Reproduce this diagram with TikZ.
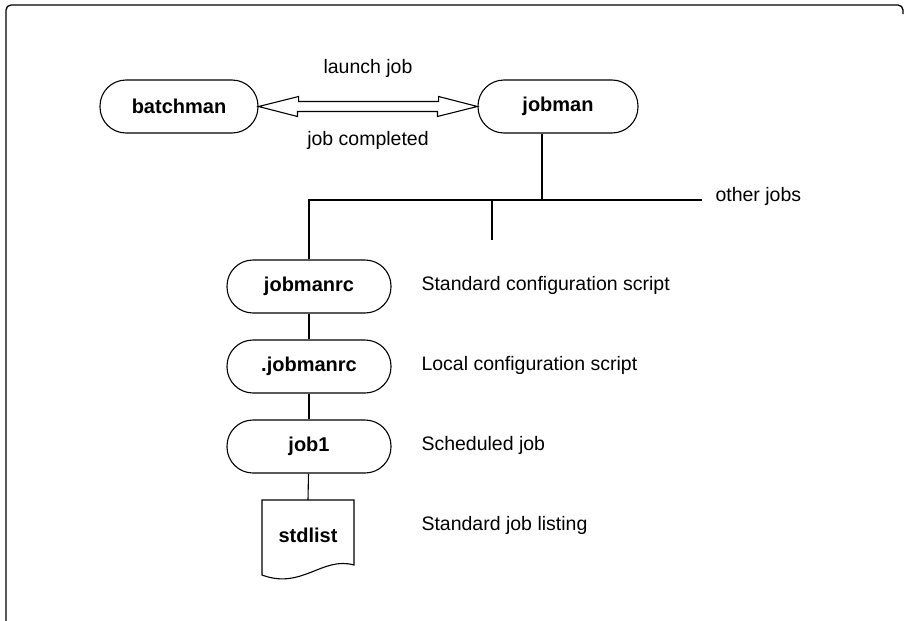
\documentclass[tikz,border=0pt]{standalone}
\usepackage{fontspec}
\setmainfont{Liberation Sans}
\begin{document}
\begin{tikzpicture}[x=1pt,y=-1pt,
  every node/.style={font=\fontsize{19.5}{23}\selectfont},
  pbox/.style={draw, line width=1.1pt, rounded corners=26pt, minimum height=53pt,
    font=\fontsize{20}{24}\selectfont\bfseries},
  wire/.style={line width=1.1pt},
  note/.style={anchor=west}]
\useasboundingbox (0,0) rectangle (905,621);
% outer frame, open at the right and bottom
\draw[line width=1.3pt, rounded corners=5pt] (6,625) -- (6,5) -- (903,5) -- (903,14);

% scheduler processes
\node[pbox, minimum width=158pt] (batchman) at (179,106.5) {batchman};
\node[pbox, minimum width=160pt] (jobman) at (558,106.5) {jobman};

% hollow two-headed arrow between them
\draw[line width=1.1pt, line join=miter]
  (batchman.east) -- ++(40,-10) -- ++(0,5) -- ++(140,0) -- ++(0,-5)
  -- (jobman.west) -- ++(-40,10) -- ++(0,-5) -- ++(-140,0) -- ++(0,5) -- cycle;
\node (launch) at (368,68) {launch job};
\node (done) at (368,140) {job completed};

% job column
\node[pbox, minimum width=164pt] (rc) at (309,286.5) {jobmanrc};
\node[pbox, minimum width=164pt] (lrc) at (309,366.5) {.jobmanrc};
\node[pbox, minimum width=164pt] (job) at (309,446.5) {job1};

% stdlist document symbol
\coordinate (doctop) at (308,500);
\draw[line width=1.1pt] (262,500) -- (354,500) -- (354,565)
  .. controls (322,556) and (302,590) .. (262,575) -- cycle;
\node[font=\fontsize{20}{24}\selectfont\bfseries] (std) at (308,535) {stdlist};

% fan-out from jobman
\coordinate (split) at (542,200);
\coordinate (left) at (309,200);
\coordinate (right) at (702,200);
\coordinate (mid) at (492,200);
\coordinate (midend) at (492,240);
\draw[wire] (jobman.south -| split) -- (split);
\draw[wire] (rc.north) -- (left) -- (right);
\draw[wire] (mid) -- (midend);
\node[note] (other) at (712,196) {other jobs};

\draw[wire] (rc) -- (lrc);
\draw[wire] (lrc) -- (job);
\draw[wire] (job) -- (doctop);

% descriptions
\node[note] (d1) at (418,285) {Standard configuration script};
\node[note] (d2) at (418,365) {Local configuration script};
\node[note] (d3) at (418,445) {Scheduled job};
\node[note] (d4) at (418,525) {Standard job listing};
\end{tikzpicture}
\end{document}
